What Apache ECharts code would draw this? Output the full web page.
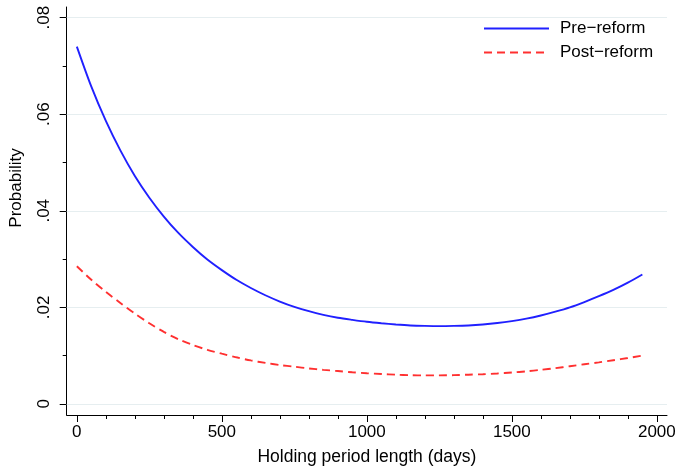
<!DOCTYPE html>
<html>
<head>
<meta charset="utf-8">
<script src="https://cdn.jsdelivr.net/npm/echarts@6/dist/echarts.min.js"></script>
<style>
html,body{margin:0;padding:0;background:#fff;}
#chart{width:678px;height:467px;}
</style>
</head>
<body>
<div id="chart"></div>
<script>
const xValues = [0,50,100,150,200,250,300,350,400,450,500,550,600,650,700,750,800,850,900,950,1000,1050,1100,1150,1200,1250,1300,1350,1400,1450,1500,1550,1600,1650,1700,1750,1800,1850,1900,1950];
const preReform = [0.0740,0.0657,0.0586,0.0525,0.0472,0.0427,0.0388,0.0354,0.0325,0.0299,0.0277,0.0257,0.0240,0.0225,0.0212,0.0201,0.0192,0.01845,0.01785,0.0174,0.0170,0.0167,0.01645,0.01625,0.01615,0.0161,0.01615,0.01625,0.01645,0.01675,0.01715,0.01765,0.0183,0.0191,0.0200,0.0211,0.0223,0.0236,0.0251,0.0268];
const postReform = [0.0285,0.0257,0.0232,0.0209,0.0187,0.0167,0.0149,0.0134,0.0122,0.0112,0.0104,0.00965,0.0090,0.0085,0.00805,0.0077,0.00735,0.00705,0.0068,0.00655,0.00635,0.0062,0.00605,0.00595,0.0059,0.0059,0.00595,0.00605,0.00615,0.0063,0.0065,0.00675,0.00705,0.0074,0.0078,0.0082,0.0086,0.00905,0.0095,0.0100];
const seriesNames = ['Pre\u2212reform','Post\u2212reform'];
const xTicks = [0,500,1000,1500,2000];
const xMinorTicks = [0,100,200,300,400,500,600,700,800,900,1000,1100,1200,1300,1400,1500,1600,1700,1800,1900,2000];
const yTicks = [0,0.02,0.04,0.06,0.08];
const yTickLabels = ['0','.02','.04','.06','.08'];
const yMinorTicks = [0.01,0.03,0.05,0.07];
const xTitle = 'Holding period length (days)';
const yTitle = 'Probability';

const FONT = '"Liberation Sans", Arial, Helvetica, sans-serif';
const X_MIN = -35, X_MAX = 2035, Y_MIN = -0.0023, Y_MAX = 0.0822;

const chart = echarts.init(document.getElementById('chart'), null, {renderer:'canvas'});
const pairs = vals => xValues.map((x,i) => [x, vals[i]]);
const yLabelMap = v => {
  for (let i = 0; i < yTicks.length; i++) if (Math.abs(v - yTicks[i]) < 1e-9) return yTickLabels[i];
  return '';
};

chart.setOption({
  backgroundColor: '#fff',
  animation: false,
  textStyle: {fontFamily: FONT, color: '#000'},
  grid: {left: 66.7, right: 11, top: 7, bottom: 52, containLabel: false, outerBoundsMode: 'none'},
  legend: {
    data: seriesNames,
    orient: 'vertical',
    left: 483, top: 20, padding: 0,
    itemWidth: 65, itemHeight: 14, itemGap: 7,
    itemStyle: {opacity: 0, borderWidth: 0},
    textStyle: {fontFamily: FONT, fontSize: 17, color: '#000', padding: [0,0,0,6]}
  },
  xAxis: [{
    type: 'value', min: X_MIN, max: X_MAX,
    axisLine: {show: true, onZero: false, lineStyle: {color: '#000', width: 1}},
    axisTick: {show: true, customValues: xTicks, length: 7, lineStyle: {color: '#000'}},
    axisLabel: {customValues: xTicks, fontSize: 17, color: '#000', fontFamily: FONT, margin: 9, formatter: v => String(v)},
    splitLine: {show: false},
    name: xTitle, nameLocation: 'middle', nameGap: 33,
    nameTextStyle: {fontSize: 17.5, color: '#000', fontFamily: FONT}
  },{
    type: 'value', min: X_MIN, max: X_MAX, position: 'bottom',
    axisLine: {show: false, onZero: false},
    axisTick: {show: true, customValues: xMinorTicks, length: 4, lineStyle: {color: '#000'}},
    axisLabel: {show: false},
    splitLine: {show: false}
  }],
  yAxis: [{
    type: 'value', min: Y_MIN, max: Y_MAX,
    axisLine: {show: true, onZero: false, lineStyle: {color: '#000', width: 1}},
    axisTick: {show: true, customValues: yTicks, length: 7, lineStyle: {color: '#000'}},
    axisLabel: {customValues: yTicks, rotate: 90, fontSize: 17, color: '#000', fontFamily: FONT, margin: 14, formatter: yLabelMap},
    splitLine: {show: false},
    name: yTitle, nameLocation: 'middle', nameGap: 42, nameRotate: 90,
    nameTextStyle: {fontSize: 17, color: '#000', fontFamily: FONT, padding: [0,0,0,46]}
  },{
    type: 'value', min: Y_MIN, max: Y_MAX, position: 'left',
    axisLine: {show: false, onZero: false},
    axisTick: {show: true, customValues: yMinorTicks, length: 4, lineStyle: {color: '#000'}},
    axisLabel: {show: false},
    splitLine: {show: false}
  }],
  series: [{
    name: 'gridlines', type: 'line', data: [], z: 1, silent: true,
    markLine: {
      silent: true, z: 1, symbol: ['none','none'], label: {show: false},
      lineStyle: {color: '#e6eef0', width: 1.2, type: 'solid'},
      data: yTicks.map(v => ({yAxis: v}))
    }
  },{
    name: seriesNames[0], type: 'line', data: pairs(preReform), smooth: 0.3,
    showSymbol: false, symbol: 'none', z: 3,
    lineStyle: {color: '#2020ff', width: 1.9},
    itemStyle: {color: '#2020ff'}
  },{
    name: seriesNames[1], type: 'line', data: pairs(postReform), smooth: 0.3,
    showSymbol: false, symbol: 'none', z: 3,
    lineStyle: {color: '#ff3030', width: 1.9, type: [8,5]},
    itemStyle: {color: '#ff3030'}
  }]
});
</script>
</body>
</html>
